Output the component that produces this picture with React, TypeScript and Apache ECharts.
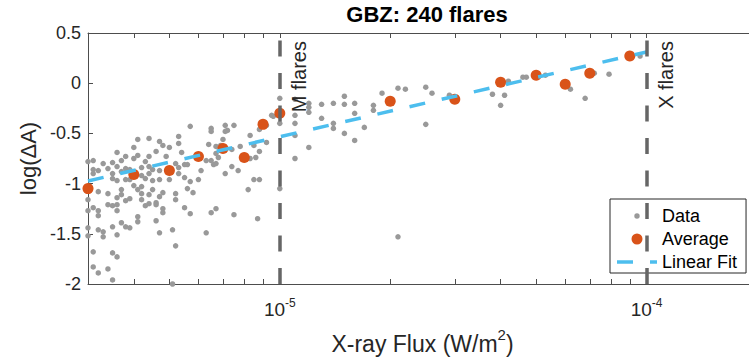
import React, { useEffect, useRef } from "react";
import * as echarts from "echarts";

// ---- data ----
const dataFlux = [
  5.7e-6, 4.1e-6, 4.4e-6, 4.7e-6, 5.3e-6, 4.8e-6, 5.0e-6, 5.3e-6, 4.0e-6, 4.6e-6,
  3.6e-6, 5.4e-6, 4.1e-6, 3.8e-6, 4.4e-6, 4.9e-6, 3.7e-6, 4.0e-6, 3.0e-6, 3.1e-6,
  3.3e-6, 3.5e-6, 3.6e-6, 3.8e-6, 4.3e-6, 4.4e-6, 4.2e-6, 4.5e-6, 5.2e-6, 5.5e-6,
  3.1e-6, 3.2e-6, 3.4e-6, 3.5e-6, 3.7e-6, 3.9e-6, 4.4e-6, 4.2e-6, 4.7e-6, 5.3e-6,
  5.5e-6, 5.6e-6, 3.1e-6, 3.5e-6, 3.6e-6, 3.8e-6, 3.9e-6, 4.3e-6, 4.5e-6, 4.7e-6,
  5.0e-6, 5.3e-6, 5.6e-6, 4.0e-6, 4.1e-6, 4.2e-6, 3.7e-6, 3.2e-6, 3.4e-6, 4.2e-6,
  4.5e-6, 4.8e-6, 5.2e-6, 3.6e-6, 3.7e-6, 3.9e-6, 4.4e-6, 4.7e-6, 3.0e-6, 3.8e-6,
  4.2e-6, 4.6e-6, 5.2e-6, 3.4e-6, 3.5e-6, 3.6e-6, 4.3e-6, 4.4e-6, 4.6e-6, 3.1e-6,
  3.2e-6, 3.6e-6, 3.0e-6, 4.8e-6, 4.8e-6, 5.5e-6, 3.2e-6, 4.1e-6, 4.1e-6, 4.6e-6,
  3.7e-6, 3.8e-6, 3.9e-6, 3.5e-6, 3.0e-6, 3.2e-6, 3.3e-6, 4.7e-6, 5.1e-6, 3.0e-6,
  3.3e-6, 3.6e-6, 5.2e-6, 3.1e-6, 3.5e-6, 3.6e-6, 3.1e-6, 3.4e-6, 3.2e-6, 3.5e-6,
  5.1e-6, 5.7e-6, 1.0e-5, 6.5e-6, 6.5e-6, 7.1e-6, 7.2e-6, 7.1e-6, 7.5e-6, 7.0e-6,
  8.3e-6, 6.4e-6, 6.7e-6, 6.9e-6, 8.8e-6, 9.2e-6, 9.6e-6, 9.5e-6, 1.0e-5, 7.8e-6,
  7.4e-6, 6.7e-6, 6.8e-6, 6.3e-6, 6.5e-6, 6.6e-6, 6.7e-6, 8.6e-6, 8.3e-6, 8.8e-6,
  9.2e-6, 8.5e-6, 7.4e-6, 7.7e-6, 7.1e-6, 6.1e-6, 6.0e-6, 5.7e-6, 5.8e-6, 6.5e-6,
  6.7e-6, 7.5e-6, 8.8e-6, 8.5e-6, 8.2e-6, 8.7e-6, 6.3e-6, 1.0e-5, 1.1e-5, 1.2e-5,
  1.2e-5, 1.2e-5, 1.1e-5, 1.1e-5, 1.1e-5, 1.2e-5, 1.1e-5, 1.3e-5, 1.4e-5, 1.5e-5,
  1.5e-5, 1.6e-5, 1.6e-5, 1.3e-5, 1.4e-5, 1.4e-5, 1.5e-5, 1.6e-5, 1.7e-5, 1.8e-5,
  1.8e-5, 1.9e-5, 2.1e-5, 2.2e-5, 2.5e-5, 2.6e-5, 2.5e-5, 2.9e-5, 2.1e-5, 4.2e-5,
  3.8e-5, 4.1e-5, 4.0e-5, 4.6e-5, 4.7e-5, 5.3e-5, 6.2e-5, 6.8e-5, 7.2e-5, 7.9e-5,
  9.6e-5,
];
const dataLogDA = [
  -0.43, -0.56, -0.55, -0.58, -0.53, -0.62, -0.64, -0.60, -0.64, -0.68,
  -0.69, -0.69, -0.72, -0.73, -0.73, -0.73, -0.77, -0.75, -0.78, -0.77,
  -0.80, -0.79, -0.83, -0.85, -0.78, -0.83, -0.84, -0.86, -0.80, -0.81,
  -0.86, -0.87, -0.85, -0.90, -0.88, -0.86, -0.90, -0.92, -0.87, -0.84,
  -0.94, -0.81, -0.90, -0.95, -0.97, -0.96, -0.96, -0.95, -0.97, -0.96,
  -0.96, -0.90, -1.05, -1.02, -1.06, -1.03, -1.06, -1.08, -1.10, -1.10,
  -1.06, -1.09, -1.10, -1.14, -1.11, -1.15, -1.11, -1.13, -1.16, -1.17,
  -1.16, -1.19, -1.16, -1.21, -1.22, -1.21, -1.22, -1.20, -1.21, -1.24,
  -1.27, -1.27, -1.27, -1.25, -1.29, -1.24, -1.32, -1.33, -1.38, -1.37,
  -1.39, -1.43, -1.44, -1.43, -1.44, -1.46, -1.48, -1.49, -1.46, -1.52,
  -1.53, -1.51, -1.62, -1.68, -1.69, -1.73, -1.83, -1.85, -1.89, -1.96,
  -2.0, -1.30, -0.15, -0.45, -0.48, -0.42, -0.47, -0.48, -0.42, -0.56,
  -0.52, -0.61, -0.63, -0.62, -0.46, -0.42, -0.33, -0.32, -0.40, -0.63,
  -0.66, -0.70, -0.74, -0.77, -0.77, -0.81, -0.80, -0.74, -0.75, -0.68,
  -0.59, -0.62, -0.83, -0.87, -0.90, -0.87, -0.96, -0.98, -1.09, -1.29,
  -1.25, -1.31, -0.96, -0.96, -1.06, -1.35, -1.49, -1.05, -0.16, -0.20,
  -0.24, -0.29, -0.32, -0.40, -0.52, -0.64, -0.75, -0.21, -0.20, -0.13,
  -0.21, -0.20, -0.30, -0.35, -0.40, -0.45, -0.50, -0.57, -0.44, -0.22,
  -0.27, -0.10, -0.05, -0.06, -0.04, -0.10, -0.41, -0.12, -1.53, 0.02,
  -0.11, -0.12, -0.22, 0.06, 0.06, 0.08, -0.06, -0.15, 0.10, 0.09,
  0.27,
];
const avgFlux = [3e-6, 4e-6, 5e-6, 6e-6, 7e-6, 8e-6, 9e-6, 1e-5, 2e-5, 3e-5, 4e-5, 5e-5, 6e-5, 7e-5, 9e-5];
const avgLogDA = [-1.05, -0.91, -0.87, -0.73, -0.65, -0.74, -0.41, -0.30, -0.18, -0.16, 0.01, 0.08, -0.01, 0.10, 0.27];
const fitFlux = [3e-6, 1e-4];
const fitLogDA = [-0.974, 0.311];
const flareClassFlux = [1e-5, 1e-4];
const flareClassNames = ["M flares", "X flares"];
const xTickFlux = [
  3e-6, 4e-6, 5e-6, 6e-6, 7e-6, 8e-6, 9e-6, 1e-5,
  2e-5, 3e-5, 4e-5, 5e-5, 6e-5, 7e-5, 8e-5, 9e-5, 1e-4, 2e-4,
];
const xLabelFlux = [1e-5, 1e-4];
const xMinFlux = 3e-6;
const xMaxFlux = 2e-4;
const yMin = -2;
const yMax = 0.5;
const yStep = 0.5;
const titleText = "GBZ: 240 flares";

const FONT = "'Liberation Sans', Arial, Helvetica, sans-serif";
const TXT = "#262626";
const AX = "#4d4d4d";

// legend icons (bounding box padded so the dot keeps its size)
const ICON_SMALL_DOT = "path://M0,0M14,14M7,4.3A2.7,2.7,0,1,1,7,9.7A2.7,2.7,0,1,1,7,4.3Z";
const ICON_BIG_DOT = "path://M0,0M14,14M7,1.5A5.5,5.5,0,1,1,7,12.5A5.5,5.5,0,1,1,7,1.5Z";
const ICON_DASH = "path://M0,0H16V3.5H0ZM33,0H40V3.5H33Z";

export default function App() {
  const ref = useRef<HTMLDivElement>(null);
  useEffect(() => {
    document.body.style.margin = "0";
    const chart = echarts.init(ref.current!, null, { renderer: "svg" });
    const lg = Math.log10;
    const tickCfg = {
      show: true,
      inside: true,
      length: 5,
      customValues: xTickFlux.map(lg),
      lineStyle: { color: AX, width: 1 },
    };
    const option: any = {
      animation: false,
      textStyle: { fontFamily: FONT },
      title: {
        text: titleText,
        left: 422,
        top: -2,
        textAlign: "center",
        textStyle: { fontFamily: FONT, fontSize: 22, fontWeight: "bold", color: "#000" },
      },
      grid: { left: 88, top: 33, right: 0, bottom: 80, containLabel: false },
      legend: {
        orient: "vertical",
        left: 610,
        top: 199,
        itemWidth: 40,
        itemHeight: 14,
        itemGap: 5,
        padding: [8, 9, 2, 7],
        borderColor: "#262626",
        borderWidth: 1,
        backgroundColor: "#fff",
        textStyle: { fontFamily: FONT, fontSize: 18, color: "#000" },
        data: [
          { name: "Data", icon: ICON_SMALL_DOT },
          { name: "Average", icon: ICON_BIG_DOT },
          { name: "Linear Fit", icon: ICON_DASH, itemStyle: { color: "#4DBEEE" } },
        ],
      },
      xAxis: [
        {
          type: "value",
          min: lg(xMinFlux),
          max: lg(xMaxFlux),
          position: "bottom",
          splitLine: { show: false },
          axisLine: { show: true, onZero: false, lineStyle: { color: AX, width: 1 } },
          axisTick: tickCfg,
          axisLabel: {
            customValues: xLabelFlux.map(lg),
            margin: 13,
            formatter: (v: number) => `{b|10}{s|${Math.round(v)}}`,
            rich: {
              b: { fontFamily: FONT, fontSize: 19, lineHeight: 24, color: TXT },
              s: { fontFamily: FONT, fontSize: 12, lineHeight: 12, verticalAlign: "top", color: TXT },
            },
          },
          name: "{b|X-ray Flux (W/m}{s|2}{b|)}",
          nameLocation: "middle",
          nameGap: 43,
          nameTextStyle: {
            rich: {
              b: { fontFamily: FONT, fontSize: 23, lineHeight: 34, color: TXT },
              s: { fontFamily: FONT, fontSize: 15, lineHeight: 15, verticalAlign: "top", color: TXT },
            },
          },
        },
        {
          type: "value",
          min: lg(xMinFlux),
          max: lg(xMaxFlux),
          position: "top",
          splitLine: { show: false },
          axisLine: { show: true, onZero: false, lineStyle: { color: AX, width: 1 } },
          axisTick: tickCfg,
          axisLabel: { show: false },
        },
      ],
      yAxis: {
        type: "value",
        min: yMin,
        max: yMax,
        interval: yStep,
        splitLine: { show: false },
        axisLine: { show: true, onZero: false, lineStyle: { color: AX, width: 1 } },
        axisTick: { show: true, inside: true, length: 5, lineStyle: { color: AX } },
        axisLabel: { fontFamily: FONT, fontSize: 18, color: TXT, margin: 7 },
        name: "log(ΔA)",
        nameLocation: "middle",
        nameGap: 37,
        nameTextStyle: { fontFamily: FONT, fontSize: 22, color: TXT },
      },
      series: [
        {
          name: "flare classes",
          type: "line",
          data: [],
          z: 1,
          silent: true,
          markLine: {
            silent: true,
            symbol: ["none", "none"],
            animation: false,
            lineStyle: { color: "#666666", width: 3.5, type: [16, 16.5] },
            emphasis: { disabled: true },
            data: flareClassFlux.map((f, i) => [
              {
                coord: [lg(f), yMin],
                label: {
                  show: true,
                  formatter: flareClassNames[i],
                  position: "insideEndBottom",
                  distance: [8, 9],
                  fontFamily: FONT,
                  fontSize: 20,
                  color: TXT,
                },
              },
              { coord: [lg(f), yMax] },
            ]),
          },
        },
        {
          name: "Data",
          type: "scatter",
          z: 2,
          symbolSize: 5.5,
          itemStyle: { color: "#999999", opacity: 1 },
          data: dataFlux.map((f, i) => [lg(f), dataLogDA[i]]),
        },
        {
          name: "Average",
          type: "scatter",
          z: 3,
          symbolSize: 11,
          itemStyle: { color: "#D95319", opacity: 1 },
          data: avgFlux.map((f, i) => [lg(f), avgLogDA[i]]),
        },
        {
          name: "Linear Fit",
          type: "line",
          z: 4,
          symbol: "none",
          showSymbol: false,
          itemStyle: { color: "#4DBEEE" },
          lineStyle: { color: "#4DBEEE", width: 3.5, type: [16, 17] },
          data: fitFlux.map((f, i) => [lg(f), fitLogDA[i]]),
        },
      ],
    };
    chart.setOption(option);
    return () => chart.dispose();
  }, []);
  return (
    <div style={{ position: "absolute", left: 0, top: 0, width: 749, height: 364, overflow: "hidden", background: "#fff" }}>
      <div ref={ref} style={{ position: "absolute", left: 0, top: 0, width: 757, height: 364 }} />
    </div>
  );
}
